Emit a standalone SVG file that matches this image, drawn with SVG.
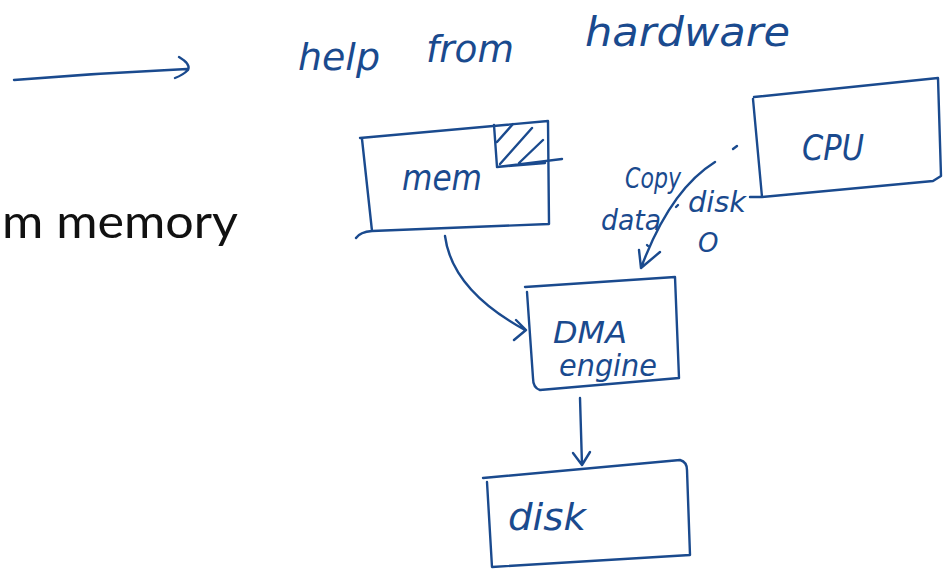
<svg xmlns="http://www.w3.org/2000/svg" width="951" height="570" viewBox="0 0 951 570">
  <style>
    .ink { fill: none; stroke: #1a4a8e; stroke-width: 2.4; stroke-linecap: round; stroke-linejoin: round; }
    .hand { fill: #1a4a8e; font-family: "DejaVu Sans", "Liberation Sans", sans-serif; font-style: italic; }
    .slide { fill: #111; font-family: "Lato", "Open Sans", sans-serif; font-size: 46px; }
  </style>
  <rect width="951" height="570" fill="#fff"/>

  <!-- slide text fragment -->
  <text class="slide" x="2" y="238" textLength="236" lengthAdjust="spacingAndGlyphs">m memory</text>

  <!-- title -->
  <g id="title">
    <text class="hand" x="298" y="70" font-size="38" textLength="82" lengthAdjust="spacingAndGlyphs">help</text>
    <text class="hand" x="426" y="62" font-size="38" textLength="88" lengthAdjust="spacingAndGlyphs">from</text>
    <text class="hand" x="585" y="46" font-size="40" textLength="205" lengthAdjust="spacingAndGlyphs">hardware</text>
  </g>

  <g id="mem">
    <path class="ink" d="M360,138 L548,121 L549,224 L372,231 L362,139 M372,231 Q360,232 356,238"/>
    <path class="ink" d="M494,125 L497,167 L545,163 M497,167 L562,159 M497,142 L513,124 M500,164 L532,128 M519,163 L543,140"/>
    <text class="hand" x="402" y="190" font-size="36" textLength="80" lengthAdjust="spacingAndGlyphs">mem</text>
  </g>

  <g id="cpu">
    <path class="ink" d="M754,97 L938,78 L941,176 L933,181 L762,197 L753,99 M762,197 L750,197"/>
    <text class="hand" x="802" y="160" font-size="36" textLength="62" lengthAdjust="spacingAndGlyphs">CPU</text>
  </g>

  <g id="dma">
    <path class="ink" d="M525,287 L675,277 L679,378 L540,390 Q533,388 533,378 L527,292"/>
    <text class="hand" x="553" y="343" font-size="30" textLength="74" lengthAdjust="spacingAndGlyphs">DMA</text>
    <text class="hand" x="559" y="376" font-size="30" textLength="98" lengthAdjust="spacingAndGlyphs">engine</text>
  </g>

  <g id="disk">
    <path class="ink" d="M483,478 L680,460 Q687,462 687,470 L690,555 L492,567 L487,482"/>
    <text class="hand" x="508" y="530" font-size="38" textLength="78" lengthAdjust="spacingAndGlyphs">disk</text>
  </g>

  <g id="connectors">
    <!-- top-left arrow -->
    <path class="ink" d="M14,80 Q100,73 187,69 M179,57 Q191,64 188,70 Q183,75 175,78"/>
    <!-- mem to DMA -->
    <path class="ink" d="M445,236 Q452,290 525,330 M516,320 L526,330 L514,340"/>
    <!-- DMA to disk -->
    <path class="ink" d="M580,398 L582,465 M573,453 L582,465 L590,452"/>
    <!-- CPU to DMA (copy data) -->
    <path class="ink" d="M715,162 Q670,190 641,268 M639,250 L641,268 L660,252"/>
    <path class="ink" d="M733,149 L737,146 M676,207 L678,205 M647,245 L648,246"/>
  </g>

  <g id="annotations">
    <text class="hand" x="625" y="188" font-size="28" textLength="56" lengthAdjust="spacingAndGlyphs">Copy</text>
    <text class="hand" x="601" y="230" font-size="28" textLength="60" lengthAdjust="spacingAndGlyphs">data</text>
    <text class="hand" x="688" y="212" font-size="28" textLength="58" lengthAdjust="spacingAndGlyphs">disk</text>
    <text class="hand" x="698" y="252" font-size="26">O</text>
  </g>
</svg>
